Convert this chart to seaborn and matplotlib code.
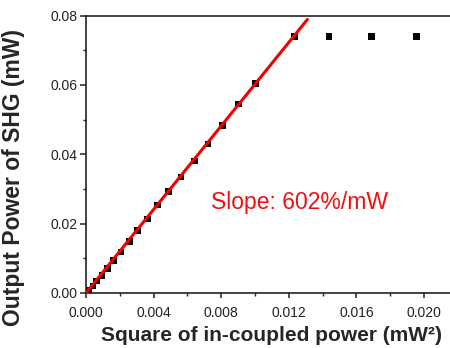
import matplotlib
matplotlib.use("Agg")
import matplotlib.pyplot as plt
from matplotlib.ticker import MultipleLocator, FormatStrFormatter
import pandas as pd
import seaborn as sns

# Measured SHG output vs. square of in-coupled pump power
pump_sq = [0.00016, 0.00040, 0.00063, 0.00095, 0.00126, 0.00162, 0.00207,
           0.00256, 0.00306, 0.00363, 0.00422, 0.00489, 0.00562, 0.00641,
           0.00722, 0.00809, 0.00903, 0.01002, 0.01233, 0.01438, 0.01688,
           0.01957]
shg_power = [0.0009, 0.0020, 0.0034, 0.0051, 0.0070, 0.0093, 0.0118,
             0.0149, 0.0180, 0.0214, 0.0253, 0.0293, 0.0335, 0.0381,
             0.0429, 0.0483, 0.0545, 0.0604, 0.0739, 0.0739, 0.0739,
             0.0739]

# Linear fit (slope in mW / mW^2)
fit_slope = 6.02
fit_x = [0.0, 0.0131]

sns.set_theme(style="ticks")
plt.rcParams["font.family"] = ["Liberation Sans", "DejaVu Sans"]

df = pd.DataFrame({"x": pump_sq, "y": shg_power})
fit_df = pd.DataFrame({"x": fit_x, "y": [fit_slope * v for v in fit_x]})

fig = plt.figure(figsize=(4.5, 3.48), dpi=100)
ax = fig.add_axes([86 / 450, 1 - 293 / 348, (0.022 * 16900) / 450, (293 - 15.5) / 348])

sns.scatterplot(data=df, x="x", y="y", ax=ax, marker="s", s=22, color="black",
                edgecolor="none", zorder=2)
sns.lineplot(data=fit_df, x="x", y="y", ax=ax, color="#f00000", lw=2.2, zorder=3)

ax.set_xlim(0, 0.022)
ax.set_ylim(0, 0.08)
ax.xaxis.set_major_locator(MultipleLocator(0.004))
ax.xaxis.set_minor_locator(MultipleLocator(0.002))
ax.yaxis.set_major_locator(MultipleLocator(0.02))
ax.yaxis.set_minor_locator(MultipleLocator(0.01))
ax.xaxis.set_major_formatter(FormatStrFormatter("%.3f"))
ax.yaxis.set_major_formatter(FormatStrFormatter("%.2f"))

ax.tick_params(which="major", direction="out", length=4.5, width=1.1,
               labelsize=10, colors="#222222", pad=1.5)
ax.tick_params(which="minor", direction="out", length=2.5, width=1.0, colors="#222222")
ax.tick_params(axis="x", which="major", length=3.5, pad=6)
ax.tick_params(top=False, right=False, which="both")

for side in ["left", "bottom", "top"]:
    ax.spines[side].set_visible(True)
    ax.spines[side].set_linewidth(1.2)
    ax.spines[side].set_color("#222222")
ax.spines["right"].set_visible(False)

ax.set_xlabel("Square of in-coupled power (mW²)", fontsize=15,
              fontweight="bold", labelpad=4)
ax.set_ylabel("Output Power of SHG (mW)", fontsize=16.5, fontweight="bold",
              labelpad=3)
ax.yaxis.set_label_coords(-0.165, 0.418)

ax.text(0.0074, 0.0242, "Slope: 602%/mW", color="#f01010", fontsize=16.5,
        va="baseline")

fig.savefig("out.png", dpi=100)
